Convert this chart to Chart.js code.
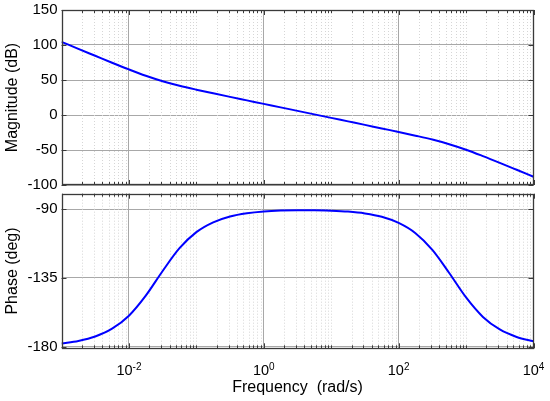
<!DOCTYPE html>
<html>
<head>
<meta charset="utf-8">
<script src="https://cdn.jsdelivr.net/npm/chart.js@4.4.1/dist/chart.umd.min.js"></script>
<style>
  body { margin: 0; background: #fff; }
  #wrap { position: relative; width: 550px; height: 401px; }
  canvas { position: absolute; left: 0; }
  #magCanvas { top: 0; }
  #phaseCanvas { top: 190px; }
</style>
</head>
<body>
<div id="wrap">
  <canvas id="magCanvas" width="550" height="190"></canvas>
  <canvas id="phaseCanvas" width="550" height="211"></canvas>
</div>
<script>
// Data
const frequency = [0.001, 0.001778, 0.003162, 0.005623, 0.01, 0.01778, 0.03162, 0.05623,
    0.1, 0.1778, 0.3162, 0.5623, 1, 1.778, 3.162, 5.623,
    10, 17.78, 31.62, 56.23, 100, 177.8, 316.2, 562.3,
    1000, 1778, 3162, 5623, 10000];
const magnitude = [104.5, 94.5, 84.6, 74.7, 65.1, 56.1, 48.3, 41.8,
    36.2, 31.0, 25.9, 20.9, 15.9, 10.9, 5.9, 0.9,
    -4.1, -9.1, -14.1, -19.2, -24.2, -29.5, -35.1, -41.7,
    -49.6, -58.7, -68.3, -78.2, -88.2];
const phase = [-177.9, -176.2, -173.3, -168.2, -159.7, -146.6, -130.5, -115.6,
    -105.1, -98.7, -94.9, -92.8, -91.6, -91.0, -90.8, -90.8,
    -91.1, -91.7, -92.9, -95.1, -99.1, -105.8, -116.7, -131.8,
    -147.8, -160.5, -168.7, -173.6, -176.4];

// Tick labels
const decadeTicks = [0.001, 0.01, 0.1, 1, 10, 100, 1000, 10000];
const xTickValues = [0.01, 1, 100, 10000];
const xTickBase = '10';
const xTickExponents = ['-2', '0', '2', '4'];
const magTicks = [-100, -50, 0, 50, 100, 150];
const phaseTicks = [-180, -135, -90];

const FONT = "'Liberation Sans', Arial, sans-serif";
const GRID = '#a8a8a8';
const BOX = '#3a3a3a';

// 1..9 * 10^k for hver dekade
function decadeValues() {
    const vals = [];
    for (let k = -3; k <= 3; k++) {
        for (let m = 1; m <= 9; m++) vals.push(m * Math.pow(10, k));
    }
    vals.push(10000);
    return vals;
}

function isMajor(v) {
    return xTickValues.some(t => Math.abs(Math.log10(v) - Math.log10(t)) < 1e-6);
}

// Prikkete minor-grid, tick-merker på innsiden og 10^n-etiketter (MATLAB-stil)
const matlabFrame = {
    id: 'matlabFrame',
    beforeDatasetsDraw(chart) {
        const { ctx, chartArea: a, scales: { x } } = chart;
        ctx.save();
        ctx.strokeStyle = '#d6d6d6';
        ctx.lineWidth = 1;
        ctx.setLineDash([1, 2]);
        decadeValues().forEach(v => {
            if (isMajor(v) || v <= 0.001 || v >= 10000) return;
            const px = Math.round(x.getPixelForValue(v)) + 0.5;
            ctx.beginPath();
            ctx.moveTo(px, a.top);
            ctx.lineTo(px, a.bottom);
            ctx.stroke();
        });
        ctx.restore();
    },
    afterDraw(chart, args, opts) {
        const { ctx, chartArea: a, scales: { x, y } } = chart;
        ctx.save();
        ctx.strokeStyle = BOX;
        ctx.lineWidth = 1;
        ctx.beginPath();
        decadeValues().forEach(v => {
            const px = Math.round(x.getPixelForValue(v)) + 0.5;
            const len = isMajor(v) ? 5 : 3;
            ctx.moveTo(px, a.top);
            ctx.lineTo(px, a.top + len);
            ctx.moveTo(px, a.bottom);
            ctx.lineTo(px, a.bottom - len);
        });
        y.ticks.forEach(t => {
            const py = Math.round(y.getPixelForValue(t.value)) + 0.5;
            ctx.moveTo(a.left, py);
            ctx.lineTo(a.left + 5, py);
            ctx.moveTo(a.right, py);
            ctx.lineTo(a.right - 5, py);
        });
        ctx.stroke();
        ctx.lineWidth = 1.3;
        ctx.strokeRect(Math.round(a.left) + 0.5, Math.round(a.top) + 0.5,
            Math.round(a.right - a.left) - 1, Math.round(a.bottom - a.top) - 1);

        if (opts.labels) {
            ctx.fillStyle = '#000';
            ctx.textBaseline = 'alphabetic';
            ctx.textAlign = 'left';
            xTickValues.forEach((v, i) => {
                const px = x.getPixelForValue(v);
                ctx.font = '14.5px ' + FONT;
                const wBase = ctx.measureText(xTickBase).width;
                ctx.font = '10px ' + FONT;
                const wExp = ctx.measureText(xTickExponents[i]).width;
                const start = px - (wBase + wExp) / 2;
                ctx.font = '14.5px ' + FONT;
                ctx.fillText(xTickBase, start, a.bottom + 26.7);
                ctx.font = '10px ' + FONT;
                ctx.fillText(xTickExponents[i], start + wBase, a.bottom + 21.7);
            });
        }
        ctx.restore();
    }
};

function makeBodeChart(canvasId, values, opts) {
    const ctx = document.getElementById(canvasId).getContext('2d');
    return new Chart(ctx, {
        type: 'line',
        data: {
            datasets: [{
                data: frequency.map((f, i) => ({ x: f, y: values[i] })),
                borderColor: '#0000ff',
                borderWidth: 2,
                pointRadius: 0,
                fill: false,
                cubicInterpolationMode: 'monotone'
            }]
        },
        options: {
            responsive: false,
            animation: false,
            layout: { padding: opts.padding },
            plugins: {
                legend: { display: false },
                tooltip: { enabled: false },
                matlabFrame: { labels: opts.showX }
            },
            scales: {
                x: {
                    type: 'logarithmic',
                    min: 0.001,
                    max: 10000,
                    afterBuildTicks: s => { s.ticks = decadeTicks.map(v => ({ value: v })); },
                    afterFit: s => {
                        s.height = opts.showX ? 52.7 : 0;
                        s.paddingLeft = 0;
                        s.paddingRight = 0;
                    },
                    border: { display: false },
                    grid: {
                        drawTicks: false,
                        color: c => (c.tick && isMajor(c.tick.value) && c.tick.value < 10000) ? GRID : 'rgba(0,0,0,0)'
                    },
                    ticks: { display: false, autoSkip: false },
                    title: {
                        display: opts.showX,
                        text: 'Frequency  (rad/s)',
                        color: '#000',
                        font: { family: FONT, size: 16 },
                        padding: { top: 0, bottom: 3.4 }
                    }
                },
                y: {
                    min: opts.min,
                    max: opts.max,
                    afterBuildTicks: s => { s.ticks = opts.ticks.map(v => ({ value: v })); },
                    afterFit: s => {
                        s.width = 61.5;
                        s.paddingTop = 0;
                        s.paddingBottom = 0;
                    },
                    border: { display: false },
                    grid: { drawTicks: false, color: GRID },
                    ticks: {
                        padding: 4,
                        color: '#000',
                        font: { family: FONT, size: 15 }
                    },
                    title: {
                        display: true,
                        text: opts.title,
                        color: '#000',
                        font: { family: FONT, size: 16 },
                        padding: { top: 3, bottom: 0 }
                    }
                }
            }
        },
        plugins: [matlabFrame]
    });
}

makeBodeChart('magCanvas', magnitude, {
    min: -100, max: 150, ticks: magTicks, title: 'Magnitude (dB)', showX: false,
    padding: { top: 10, right: 16.5, bottom: 5, left: 0 }
});
makeBodeChart('phaseCanvas', phase, {
    min: -181, max: -80, ticks: phaseTicks, title: 'Phase (deg)', showX: true,
    padding: { top: 3.7, right: 16.5, bottom: 0, left: 0 }
});
</script>
</body>
</html>
